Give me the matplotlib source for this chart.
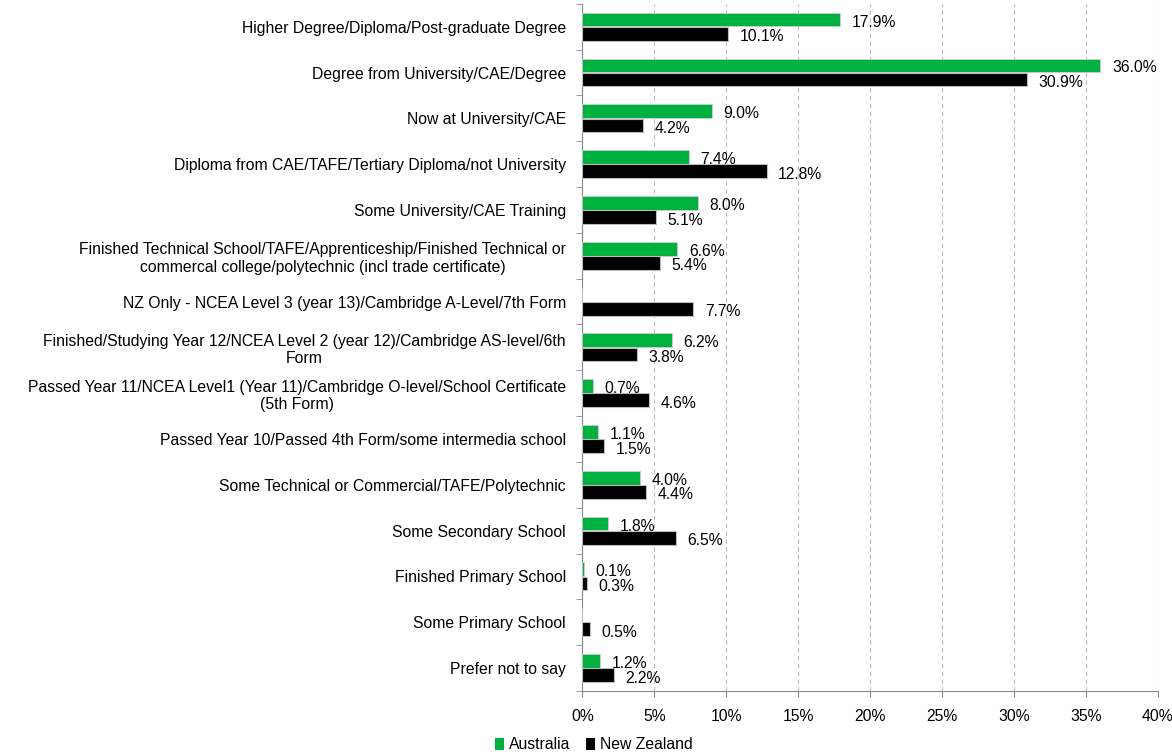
import numpy as np
import matplotlib.pyplot as plt
from matplotlib.patches import Patch

categories = [
    "Higher Degree/Diploma/Post-graduate Degree",
    "Degree from University/CAE/Degree",
    "Now at University/CAE",
    "Diploma from CAE/TAFE/Tertiary Diploma/not University",
    "Some University/CAE Training",
    "Finished Technical School/TAFE/Apprenticeship/Finished Technical or\ncommercal college/polytechnic (incl trade certificate)",
    "NZ Only - NCEA Level 3 (year 13)/Cambridge A-Level/7th Form",
    "Finished/Studying Year 12/NCEA Level 2 (year 12)/Cambridge AS-level/6th\nForm",
    "Passed Year 11/NCEA Level1 (Year 11)/Cambridge O-level/School Certificate\n(5th Form)",
    "Passed Year 10/Passed 4th Form/some intermedia school",
    "Some Technical or Commercial/TAFE/Polytechnic",
    "Some Secondary School",
    "Finished Primary School",
    "Some Primary School",
    "Prefer not to say",
]
australia = [17.9, 36.0, 9.0, 7.4, 8.0, 6.6, None, 6.2, 0.7, 1.1, 4.0, 1.8, 0.1, None, 1.2]
new_zealand = [10.1, 30.9, 4.2, 12.8, 5.1, 5.4, 7.7, 3.8, 4.6, 1.5, 4.4, 6.5, 0.3, 0.5, 2.2]
x_ticks = [0, 5, 10, 15, 20, 25, 30, 35, 40]

plt.rcParams['font.family'] = ['Liberation Sans', 'DejaVu Sans']
fs = 11.3

fig = plt.figure(figsize=(11.72, 7.56), dpi=100)
ax = fig.add_axes([0.497, 0.086, 0.491, 0.909])

y = np.arange(len(categories))
h = 0.3
green = '#00b140'

# Australia has no value for two rows, drawn as nothing
au_vals = [v if v is not None else 0 for v in australia]
ax.barh(y - 0.155, au_vals, height=h, color=green, edgecolor='#d0d0d0', linewidth=0.6, zorder=3)
ax.barh(y + 0.155, new_zealand, height=h, color='black', edgecolor='#bbbbbb', linewidth=0.8, zorder=3)

for i, v in enumerate(australia):
    if v is not None:
        ax.text(v + 0.8, i - 0.1, f"{v:.1f}%", va='center', ha='left', fontsize=fs, zorder=4)
for i, v in enumerate(new_zealand):
    ax.text(v + 0.8, i + 0.22, f"{v:.1f}%", va='center', ha='left', fontsize=fs, zorder=4)

ax.set_xlim(0, 40)
ax.set_ylim(len(categories) - 0.5, -0.5)
ax.set_xticks(x_ticks)
ax.set_xticklabels([f"{t}%" for t in x_ticks], fontsize=fs)
ax.tick_params(axis='x', length=4, color='#888888', pad=9)
ax.set_yticks(y)
ax.set_yticklabels(categories, fontsize=fs, multialignment='center')
ax.tick_params(axis='y', length=0, pad=12)
ax.set_yticks(np.arange(len(categories) + 1) - 0.5, minor=True)
ax.tick_params(axis='y', which='minor', length=4, color='#888888')

ax.grid(axis='x', linestyle=(0, (4, 3)), color='#bbbbbb', linewidth=0.8, zorder=0)
for s in ['top', 'right']:
    ax.spines[s].set_visible(False)
for s in ['left', 'bottom']:
    ax.spines[s].set_color('#888888')

handles = [Patch(facecolor=green, label='Australia'), Patch(facecolor='black', label='New Zealand')]
fig.legend(handles=handles, loc='lower left', bbox_to_anchor=(0.41, -0.014), ncol=2, frameon=False,
           fontsize=fs, handlelength=0.6, handleheight=0.8, handletextpad=0.3, columnspacing=1.0)

fig.savefig('out.png', dpi=100)
